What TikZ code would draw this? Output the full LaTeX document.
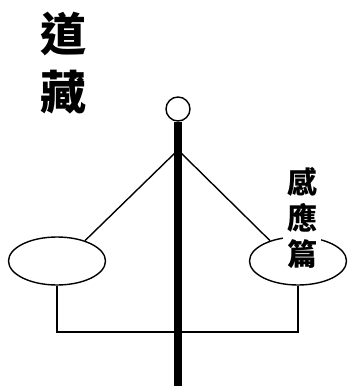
\documentclass[tikz,border=0pt]{standalone}
\usepackage{fontspec}
\newfontfamily\cjk{Noto Sans CJK TC}
\usetikzlibrary{shapes.geometric, positioning}

\begin{document}
\begin{tikzpicture}[
  x=1pt, y=-1pt,
  pan/.style={draw, ellipse, line width=1.4pt, minimum width=97pt, minimum height=48pt, inner sep=0pt},
  cord/.style={line width=1.4pt},
  tag/.style={align=center, inner sep=4pt, font=\cjk\bfseries}
]
\useasboundingbox (0,0) rectangle (349,386);

% Nodes
\node (title) [tag, font=\cjk\bfseries\fontsize{46}{58}\selectfont] at (63,63) {道\\藏};

\node (lpan) [pan] at (57,261) {};
\node (rpan) [pan] at (298,261) {};

\coordinate (hook) at (178,150);
\coordinate (base) at (178,332);
\coordinate (foot) at (178,386);

% Cords
\draw [cord] (hook) -- (lpan.36);
\draw [cord] (hook) -- (rpan.144);
\draw [cord] (lpan.south) |- (base) -| (rpan.south);

% Pole
\node (knob) [draw, circle, fill=white, line width=1.4pt, minimum size=24pt, inner sep=0pt] at (178,109) {};
\draw [line width=8pt] (knob.south) -- (foot);

\node (label) [tag, fill=white, font=\cjk\bfseries\fontsize{30}{36}\selectfont] at (302,218) {感\\應\\篇};

\end{tikzpicture}
\end{document}
